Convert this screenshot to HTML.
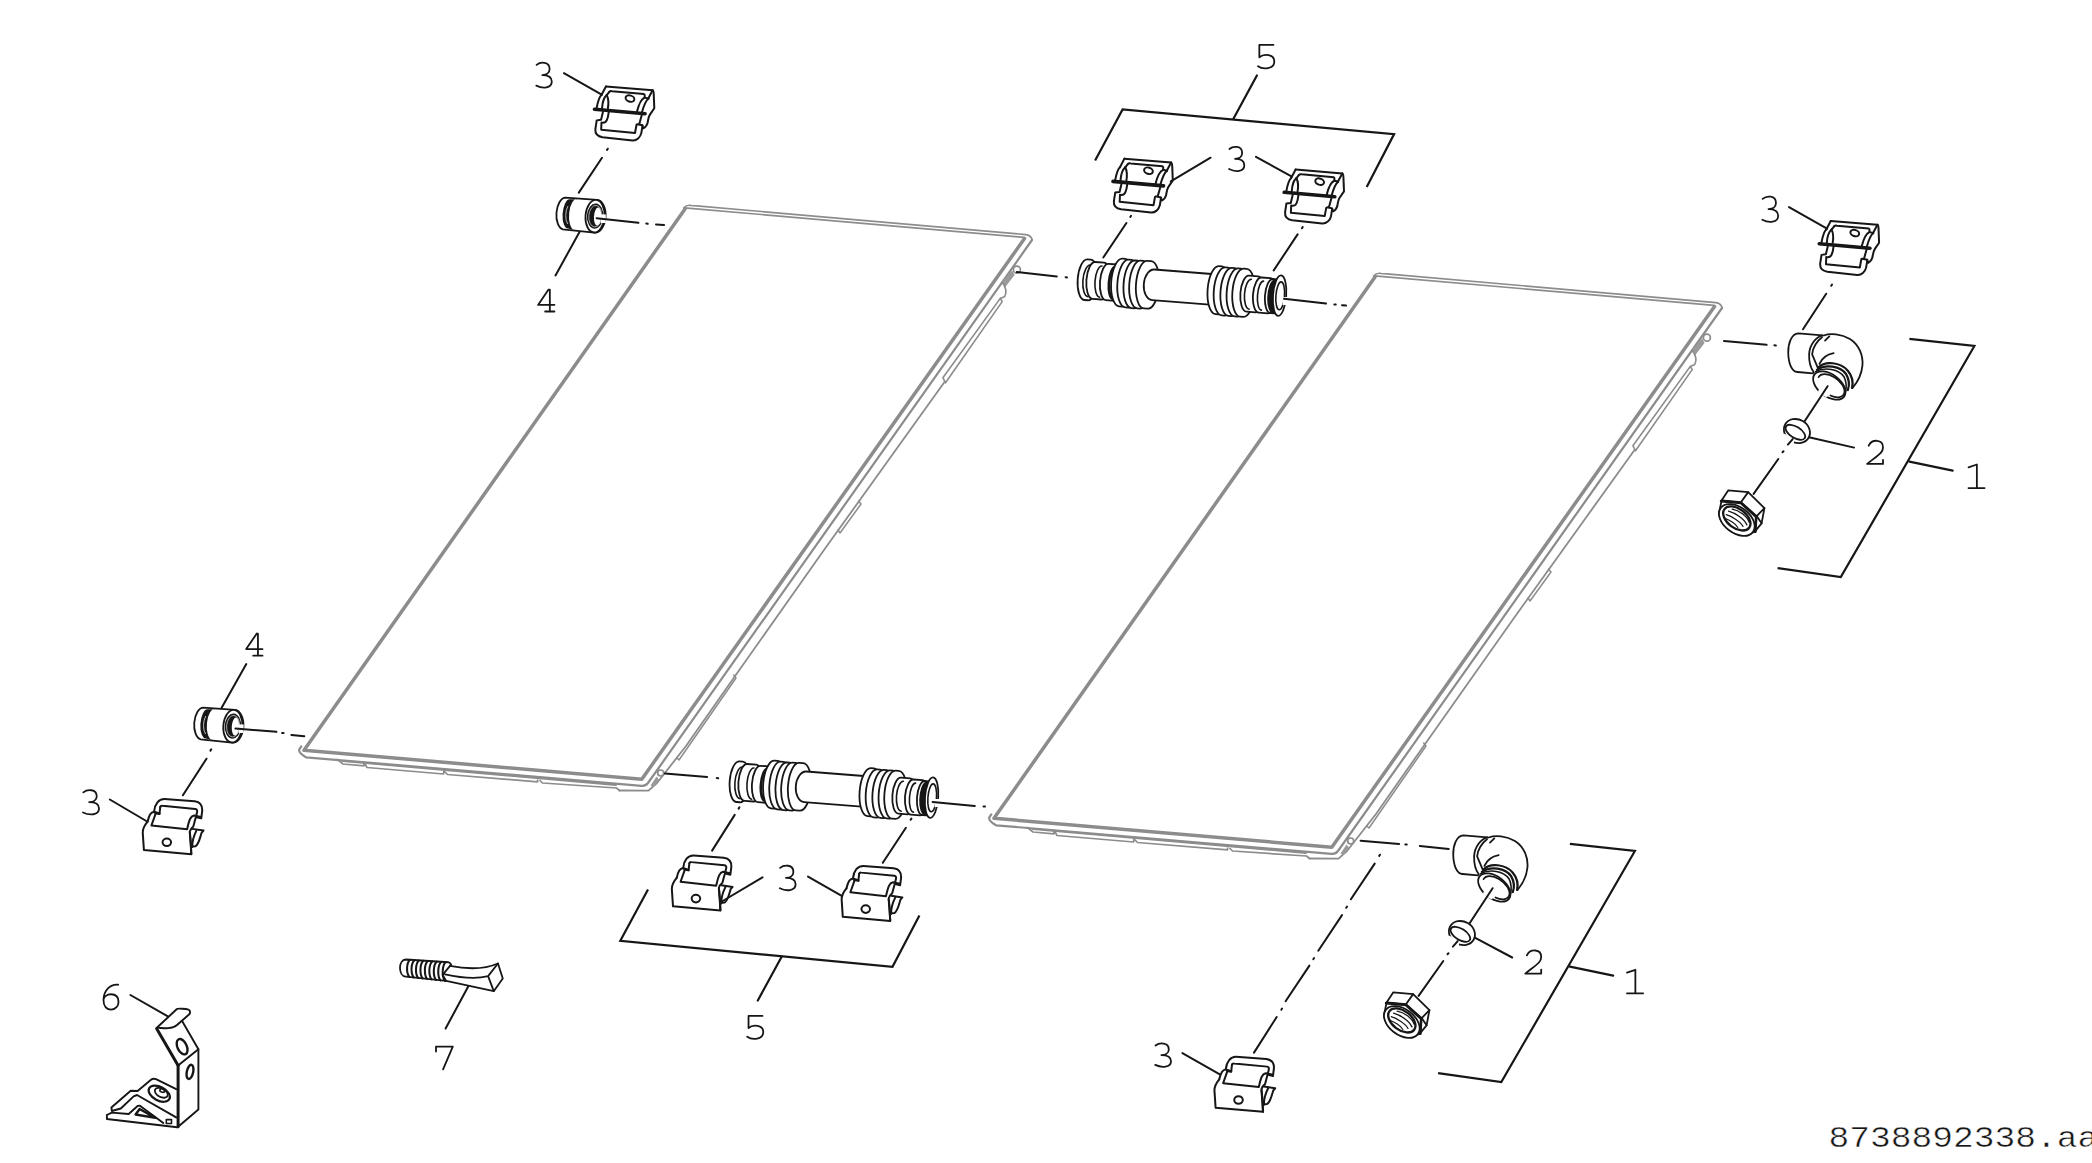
<!DOCTYPE html><html><head><meta charset="utf-8"><style>html,body{margin:0;padding:0;background:#fff;width:2092px;height:1163px;overflow:hidden}svg{display:block}</style></head><body><svg width="2092" height="1163" viewBox="0 0 2092 1163"><g transform="translate(0,0)"><path d="M684.5,207.8 L1024,237.4" fill="none" stroke="#8c8c8c" stroke-width="1.7" stroke-linejoin="round" stroke-linecap="round"/><path d="M683.6,208 Q686.5,204.6 691,205.4 L1026,234.6 Q1029,234.6 1031.5,237.9 L1032,239.5" fill="none" stroke="#8c8c8c" stroke-width="1.6" stroke-linejoin="round" stroke-linecap="round"/><path d="M685,209 L304,750.3 L641.8,779.2 L1024.5,238.5" fill="none" stroke="#8c8c8c" stroke-width="3.5" stroke-linejoin="round" stroke-linecap="round"/><path d="M1032,240 L648,783 Q645.5,786.2 641.5,785.8 L306,757.3 Q298,752.5 299.3,749.3 L301.3,746.3" fill="none" stroke="#8c8c8c" stroke-width="2.2" stroke-linejoin="round" stroke-linecap="round"/><path d="M944.5,382 L824,550 L733.7,678 L686,746 L657,783 L648.5,790.7 L619.5,790.5" fill="none" stroke="#8c8c8c" stroke-width="1.8" stroke-linejoin="round" stroke-linecap="round"/><path d="M1000.3,298.4 L942.9,377.7 L945.5,382.8 L1002.2,301.6 Z" fill="none" stroke="#8c8c8c" stroke-width="1.6" stroke-linejoin="round" stroke-linecap="round"/><path d="M858.5,501 L861,504 L840,533 L838,530" fill="none" stroke="#8c8c8c" stroke-width="1.5" stroke-linejoin="round" stroke-linecap="round"/><path d="M733.7,675 L736,678 L679,760 L676.8,758" fill="none" stroke="#8c8c8c" stroke-width="1.5" stroke-linejoin="round" stroke-linecap="round"/><path d="M337.5,759.5 L343,764 L364,765.8 L364,762.8 M364.5,763 L367,767.5 L443.5,774 L444,770.8 M444,771 L447.5,774.5 L537.6,781.8 L537.6,780 M540,780.5 L542.5,783 L616.5,788 L619.5,790.5" fill="none" stroke="#8c8c8c" stroke-width="1.7" stroke-linejoin="round" stroke-linecap="round"/><path d="M343,761 L616,785" fill="none" stroke="#8c8c8c" stroke-width="2.0" stroke-linejoin="round" stroke-linecap="round"/><path d="M1001.8,281.5 L1012.2,270.6 L1014.6,274.9 L1005.1,287.2 Z" fill="#9a9a9a"/><path d="M1002.2,282.2 Q1008,290 1004.8,296.4 L1000.3,298.4" fill="none" stroke="#8c8c8c" stroke-width="1.6" stroke-linejoin="round" stroke-linecap="round"/><path d="M650.5,785.5 L656.5,776.5 L659,779.5 L653.5,787 Z" fill="#9a9a9a"/><circle cx="660.7" cy="773" r="3.0" fill="#fff" stroke="#8c8c8c" stroke-width="1.7"/><circle cx="1016.9" cy="269.7" r="3.5" fill="#fff" stroke="#8c8c8c" stroke-width="1.7"/></g>
<g transform="translate(690,68)"><path d="M684.5,207.8 L1024,237.4" fill="none" stroke="#8c8c8c" stroke-width="1.7" stroke-linejoin="round" stroke-linecap="round"/><path d="M683.6,208 Q686.5,204.6 691,205.4 L1026,234.6 Q1029,234.6 1031.5,237.9 L1032,239.5" fill="none" stroke="#8c8c8c" stroke-width="1.6" stroke-linejoin="round" stroke-linecap="round"/><path d="M685,209 L304,750.3 L641.8,779.2 L1024.5,238.5" fill="none" stroke="#8c8c8c" stroke-width="3.5" stroke-linejoin="round" stroke-linecap="round"/><path d="M1032,240 L648,783 Q645.5,786.2 641.5,785.8 L306,757.3 Q298,752.5 299.3,749.3 L301.3,746.3" fill="none" stroke="#8c8c8c" stroke-width="2.2" stroke-linejoin="round" stroke-linecap="round"/><path d="M944.5,382 L824,550 L733.7,678 L686,746 L657,783 L648.5,790.7 L619.5,790.5" fill="none" stroke="#8c8c8c" stroke-width="1.8" stroke-linejoin="round" stroke-linecap="round"/><path d="M1000.3,298.4 L942.9,377.7 L945.5,382.8 L1002.2,301.6 Z" fill="none" stroke="#8c8c8c" stroke-width="1.6" stroke-linejoin="round" stroke-linecap="round"/><path d="M858.5,501 L861,504 L840,533 L838,530" fill="none" stroke="#8c8c8c" stroke-width="1.5" stroke-linejoin="round" stroke-linecap="round"/><path d="M733.7,675 L736,678 L679,760 L676.8,758" fill="none" stroke="#8c8c8c" stroke-width="1.5" stroke-linejoin="round" stroke-linecap="round"/><path d="M337.5,759.5 L343,764 L364,765.8 L364,762.8 M364.5,763 L367,767.5 L443.5,774 L444,770.8 M444,771 L447.5,774.5 L537.6,781.8 L537.6,780 M540,780.5 L542.5,783 L616.5,788 L619.5,790.5" fill="none" stroke="#8c8c8c" stroke-width="1.7" stroke-linejoin="round" stroke-linecap="round"/><path d="M343,761 L616,785" fill="none" stroke="#8c8c8c" stroke-width="2.0" stroke-linejoin="round" stroke-linecap="round"/><path d="M1001.8,281.5 L1012.2,270.6 L1014.6,274.9 L1005.1,287.2 Z" fill="#9a9a9a"/><path d="M1002.2,282.2 Q1008,290 1004.8,296.4 L1000.3,298.4" fill="none" stroke="#8c8c8c" stroke-width="1.6" stroke-linejoin="round" stroke-linecap="round"/><path d="M650.5,785.5 L656.5,776.5 L659,779.5 L653.5,787 Z" fill="#9a9a9a"/><circle cx="660.7" cy="773" r="3.0" fill="#fff" stroke="#8c8c8c" stroke-width="1.7"/><circle cx="1016.9" cy="269.7" r="3.5" fill="#fff" stroke="#8c8c8c" stroke-width="1.7"/></g>
<path d="M1095.1,160.6 L1122.6,109.5 L1394.1,134.1 L1366.7,187.0" fill="none" stroke="#161616" stroke-width="2.2" stroke-linejoin="miter" stroke-linecap="butt"/>
<line x1="1233.3" y1="118.9" x2="1256.9" y2="75.4" stroke="#161616" stroke-width="2.2" stroke-linecap="round"/>
<path d="M648.0,889.6 L620.3,940.8 L892.5,966.8 L919.4,915.6" fill="none" stroke="#161616" stroke-width="2.2" stroke-linejoin="miter" stroke-linecap="butt"/>
<line x1="781.5" y1="957.0" x2="757.8" y2="1000.5" stroke="#161616" stroke-width="2.2" stroke-linecap="round"/>
<path d="M1909.4,338.8 L1974.4,346.0 L1840.8,577.1 L1777.6,568.1" fill="none" stroke="#161616" stroke-width="2.2" stroke-linejoin="miter" stroke-linecap="butt"/>
<line x1="1909.4" y1="461.6" x2="1952.7" y2="470.6" stroke="#161616" stroke-width="2.2" stroke-linecap="round"/>
<path d="M1569.9,843.8 L1634.9,851.0 L1501.3,1082.1 L1438.1,1073.1" fill="none" stroke="#161616" stroke-width="2.2" stroke-linejoin="miter" stroke-linecap="butt"/>
<line x1="1569.9" y1="966.6" x2="1613.2" y2="975.6" stroke="#161616" stroke-width="2.2" stroke-linecap="round"/>
<path d="M536.61,64.88 C540.17,61.75 549.63,60.99 549.63,69.03 C549.63,73.29 545.91,75.05 542.34,75.05 C547.92,75.05 551.80,77.06 551.80,81.58 C551.80,88.60 542.50,88.85 536.30,85.59" fill="none" stroke="#161616" stroke-width="1.8" stroke-linecap="round" stroke-linejoin="round"/>
<path d="M1229.40,149.01 C1232.90,145.97 1242.17,145.24 1242.17,153.02 C1242.17,157.15 1238.52,158.85 1235.03,158.85 C1240.50,158.85 1244.30,160.79 1244.30,165.17 C1244.30,171.97 1235.18,172.22 1229.10,169.06" fill="none" stroke="#161616" stroke-width="1.8" stroke-linecap="round" stroke-linejoin="round"/>
<path d="M1762.62,198.81 C1766.28,195.64 1775.97,194.88 1775.97,203.00 C1775.97,207.32 1772.16,209.10 1768.50,209.10 C1774.22,209.10 1778.20,211.13 1778.20,215.70 C1778.20,222.82 1768.66,223.07 1762.30,219.77" fill="none" stroke="#161616" stroke-width="1.8" stroke-linecap="round" stroke-linejoin="round"/>
<path d="M83.32,792.32 C87.00,789.27 96.76,788.54 96.76,796.34 C96.76,800.49 92.92,802.20 89.24,802.20 C95.00,802.20 99.00,804.15 99.00,808.54 C99.00,815.38 89.40,815.62 83.00,812.45" fill="none" stroke="#161616" stroke-width="1.8" stroke-linecap="round" stroke-linejoin="round"/>
<path d="M780.12,867.85 C783.75,864.76 793.39,864.02 793.39,871.92 C793.39,876.12 789.60,877.85 785.96,877.85 C791.65,877.85 795.60,879.83 795.60,884.27 C795.60,891.19 786.12,891.44 779.80,888.22" fill="none" stroke="#161616" stroke-width="1.8" stroke-linecap="round" stroke-linejoin="round"/>
<path d="M1155.52,1045.53 C1159.15,1042.60 1168.79,1041.89 1168.79,1049.41 C1168.79,1053.40 1165.00,1055.05 1161.36,1055.05 C1167.05,1055.05 1171.00,1056.93 1171.00,1061.16 C1171.00,1067.74 1161.52,1067.97 1155.20,1064.92" fill="none" stroke="#161616" stroke-width="1.8" stroke-linecap="round" stroke-linejoin="round"/>
<path d="M548.53,289.60 L538.10,304.93 L554.40,304.93 M548.53,289.60 L549.84,289.60 L549.84,311.50 M545.11,311.50 L554.40,311.50" fill="none" stroke="#161616" stroke-width="1.8" stroke-linecap="round" stroke-linejoin="round"/>
<path d="M256.63,633.70 L246.20,649.10 L262.50,649.10 M256.63,633.70 L257.94,633.70 L257.94,655.70 M253.21,655.70 L262.50,655.70" fill="none" stroke="#161616" stroke-width="1.8" stroke-linecap="round" stroke-linejoin="round"/>
<path d="M1273.46,44.89 L1259.34,44.89 L1259.34,57.28 C1263.88,53.39 1274.30,54.12 1274.30,61.41 C1274.30,69.19 1263.04,69.92 1258.00,66.27" fill="none" stroke="#161616" stroke-width="1.8" stroke-linecap="round" stroke-linejoin="round"/>
<path d="M762.47,1015.88 L748.53,1015.88 L748.53,1028.01 C753.01,1024.21 763.30,1024.92 763.30,1032.06 C763.30,1039.68 752.18,1040.39 747.20,1036.82" fill="none" stroke="#161616" stroke-width="1.8" stroke-linecap="round" stroke-linejoin="round"/>
<path d="M1968.50,467.33 L1976.87,464.50 L1976.87,488.10 M1968.50,488.10 L1984.60,488.10" fill="none" stroke="#161616" stroke-width="1.8" stroke-linecap="round" stroke-linejoin="round"/>
<path d="M1627.00,972.63 L1635.37,969.80 L1635.37,993.40 M1627.00,993.40 L1643.10,993.40" fill="none" stroke="#161616" stroke-width="1.8" stroke-linecap="round" stroke-linejoin="round"/>
<path d="M1868.69,445.73 C1871.87,438.88 1883.00,438.88 1883.00,447.38 C1883.00,452.57 1879.03,454.46 1867.10,463.90 L1883.00,463.90 L1883.00,459.89" fill="none" stroke="#161616" stroke-width="1.8" stroke-linecap="round" stroke-linejoin="round"/>
<path d="M1526.89,955.43 C1530.07,948.58 1541.20,948.58 1541.20,957.08 C1541.20,962.27 1537.22,964.16 1525.30,973.60 L1541.20,973.60 L1541.20,969.59" fill="none" stroke="#161616" stroke-width="1.8" stroke-linecap="round" stroke-linejoin="round"/>
<path d="M118.20,984.77 C110.20,984.00 103.80,990.40 103.48,999.87 C103.48,1005.76 106.20,1009.60 111.00,1009.60 C115.80,1009.60 118.52,1005.76 118.52,1001.92 C118.52,996.80 115.80,994.24 111.00,994.24 C107.00,994.24 103.80,996.80 103.48,999.87" fill="none" stroke="#161616" stroke-width="1.8" stroke-linecap="round" stroke-linejoin="round"/>
<path d="M436.00,1051.62 L436.00,1046.60 L452.80,1046.60 L443.06,1069.40" fill="none" stroke="#161616" stroke-width="1.8" stroke-linecap="round" stroke-linejoin="round"/>
<text transform="translate(1828.5,1147) scale(1,0.86)" font-family="Liberation Mono" font-size="34.6" fill="#161616" stroke="#fff" stroke-width="0.5">8738892338.aa</text>
<line x1="563.9" y1="73.2" x2="601.7" y2="94.7" stroke="#161616" stroke-width="2.0" stroke-linecap="round"/>
<line x1="579.5" y1="232.1" x2="555.5" y2="275.4" stroke="#161616" stroke-width="2.0" stroke-linecap="round"/>
<line x1="246.3" y1="664.1" x2="221.5" y2="708.1" stroke="#161616" stroke-width="2.0" stroke-linecap="round"/>
<line x1="109.8" y1="799.5" x2="146.3" y2="821.0" stroke="#161616" stroke-width="2.0" stroke-linecap="round"/>
<line x1="1210.6" y1="157.7" x2="1170.8" y2="181.4" stroke="#161616" stroke-width="2.0" stroke-linecap="round"/>
<line x1="1256.0" y1="156.8" x2="1291.9" y2="176.6" stroke="#161616" stroke-width="2.0" stroke-linecap="round"/>
<line x1="1789.0" y1="207.1" x2="1827.0" y2="228.7" stroke="#161616" stroke-width="2.0" stroke-linecap="round"/>
<line x1="762.5" y1="877.4" x2="722.7" y2="901.0" stroke="#161616" stroke-width="2.0" stroke-linecap="round"/>
<line x1="808.0" y1="876.6" x2="842.2" y2="896.1" stroke="#161616" stroke-width="2.0" stroke-linecap="round"/>
<line x1="1182.4" y1="1053.1" x2="1219.8" y2="1074.3" stroke="#161616" stroke-width="2.0" stroke-linecap="round"/>
<line x1="1809.0" y1="437.3" x2="1854.1" y2="447.6" stroke="#161616" stroke-width="2.0" stroke-linecap="round"/>
<line x1="1474.8" y1="937.6" x2="1512.2" y2="957.5" stroke="#161616" stroke-width="2.0" stroke-linecap="round"/>
<line x1="130.4" y1="995.0" x2="168.3" y2="1016.6" stroke="#161616" stroke-width="2.0" stroke-linecap="round"/>
<line x1="469.0" y1="985.0" x2="445.6" y2="1028.5" stroke="#161616" stroke-width="2.0" stroke-linecap="round"/>
<g transform="translate(590.00,80.00) scale(0.05591)" fill="none" stroke="#161616" stroke-width="35.77" stroke-linecap="round" stroke-linejoin="round">
<path d="M285,115 L1120,185"/>
<path d="M285,115 L205,268"/>
<path d="M205,268 C165,300 140,390 118,505"/>
<path d="M300,268 C250,310 222,400 215,505"/>
<path d="M300,270 C325,320 335,420 320,505"/>
<path d="M345,212 C360,195 375,195 395,200 L965,252 L978,268 L978,315 L1045,330"/>
<path d="M1120,185 L1040,335"/>
<path d="M978,315 C925,335 880,410 842,560"/>
<path d="M1045,335 C995,370 965,450 930,575"/>
<path d="M345,212 L300,270"/>
<ellipse cx="715" cy="332" rx="80" ry="56" transform="rotate(18 715 332)"/>
<path d="M1120,185 C1138,200 1142,225 1140,255 L1150,505 L1075,615 C1050,650 1040,700 1030,770 C1010,830 995,850 955,862"/>
<path d="M232,570 L198,712 L120,722 L96,880 C90,960 140,1010 225,1022 L760,1080 C835,1085 900,1025 918,950 L940,810 L850,790 L832,800 L805,948 L200,888 L205,760 C245,770 280,760 300,720 C320,680 330,620 336,570"/>
<path d="M925,630 L880,790"/>
<path d="M935,815 L955,860"/>
<path d="M80,522 L985,602" stroke-width="64"/>
</g>
<g transform="translate(1108.50,152.20) scale(0.05591)" fill="none" stroke="#161616" stroke-width="35.77" stroke-linecap="round" stroke-linejoin="round">
<path d="M285,115 L1120,185"/>
<path d="M285,115 L205,268"/>
<path d="M205,268 C165,300 140,390 118,505"/>
<path d="M300,268 C250,310 222,400 215,505"/>
<path d="M300,270 C325,320 335,420 320,505"/>
<path d="M345,212 C360,195 375,195 395,200 L965,252 L978,268 L978,315 L1045,330"/>
<path d="M1120,185 L1040,335"/>
<path d="M978,315 C925,335 880,410 842,560"/>
<path d="M1045,335 C995,370 965,450 930,575"/>
<path d="M345,212 L300,270"/>
<ellipse cx="715" cy="332" rx="80" ry="56" transform="rotate(18 715 332)"/>
<path d="M1120,185 C1138,200 1142,225 1140,255 L1150,505 L1075,615 C1050,650 1040,700 1030,770 C1010,830 995,850 955,862"/>
<path d="M232,570 L198,712 L120,722 L96,880 C90,960 140,1010 225,1022 L760,1080 C835,1085 900,1025 918,950 L940,810 L850,790 L832,800 L805,948 L200,888 L205,760 C245,770 280,760 300,720 C320,680 330,620 336,570"/>
<path d="M925,630 L880,790"/>
<path d="M935,815 L955,860"/>
<path d="M80,522 L985,602" stroke-width="64"/>
</g>
<g transform="translate(1279.70,163.10) scale(0.05591)" fill="none" stroke="#161616" stroke-width="35.77" stroke-linecap="round" stroke-linejoin="round">
<path d="M285,115 L1120,185"/>
<path d="M285,115 L205,268"/>
<path d="M205,268 C165,300 140,390 118,505"/>
<path d="M300,268 C250,310 222,400 215,505"/>
<path d="M300,270 C325,320 335,420 320,505"/>
<path d="M345,212 C360,195 375,195 395,200 L965,252 L978,268 L978,315 L1045,330"/>
<path d="M1120,185 L1040,335"/>
<path d="M978,315 C925,335 880,410 842,560"/>
<path d="M1045,335 C995,370 965,450 930,575"/>
<path d="M345,212 L300,270"/>
<ellipse cx="715" cy="332" rx="80" ry="56" transform="rotate(18 715 332)"/>
<path d="M1120,185 C1138,200 1142,225 1140,255 L1150,505 L1075,615 C1050,650 1040,700 1030,770 C1010,830 995,850 955,862"/>
<path d="M232,570 L198,712 L120,722 L96,880 C90,960 140,1010 225,1022 L760,1080 C835,1085 900,1025 918,950 L940,810 L850,790 L832,800 L805,948 L200,888 L205,760 C245,770 280,760 300,720 C320,680 330,620 336,570"/>
<path d="M925,630 L880,790"/>
<path d="M935,815 L955,860"/>
<path d="M80,522 L985,602" stroke-width="64"/>
</g>
<g transform="translate(1814.80,214.50) scale(0.05591)" fill="none" stroke="#161616" stroke-width="35.77" stroke-linecap="round" stroke-linejoin="round">
<path d="M285,115 L1120,185"/>
<path d="M285,115 L205,268"/>
<path d="M205,268 C165,300 140,390 118,505"/>
<path d="M300,268 C250,310 222,400 215,505"/>
<path d="M300,270 C325,320 335,420 320,505"/>
<path d="M345,212 C360,195 375,195 395,200 L965,252 L978,268 L978,315 L1045,330"/>
<path d="M1120,185 L1040,335"/>
<path d="M978,315 C925,335 880,410 842,560"/>
<path d="M1045,335 C995,370 965,450 930,575"/>
<path d="M345,212 L300,270"/>
<ellipse cx="715" cy="332" rx="80" ry="56" transform="rotate(18 715 332)"/>
<path d="M1120,185 C1138,200 1142,225 1140,255 L1150,505 L1075,615 C1050,650 1040,700 1030,770 C1010,830 995,850 955,862"/>
<path d="M232,570 L198,712 L120,722 L96,880 C90,960 140,1010 225,1022 L760,1080 C835,1085 900,1025 918,950 L940,810 L850,790 L832,800 L805,948 L200,888 L205,760 C245,770 280,760 300,720 C320,680 330,620 336,570"/>
<path d="M925,630 L880,790"/>
<path d="M935,815 L955,860"/>
<path d="M80,522 L985,602" stroke-width="64"/>
</g>
<g transform="translate(130.00,790.00) scale(0.06882)" fill="none" stroke="#161616" stroke-width="29.06" stroke-linecap="round" stroke-linejoin="round">
<path d="M350,312 C360,200 420,130 500,132 L940,165 C1010,175 1052,225 1050,295 L1035,412 L965,395"/>
<path d="M440,245 C445,232 455,228 470,230 L950,275 C975,280 980,300 975,320 L960,380"/>
<path d="M440,245 L428,350 L365,338"/>
<path d="M255,460 C280,360 300,322 350,315 L430,342"/>
<path d="M372,345 L312,515 L830,572 C860,430 880,380 930,370 L1032,392"/>
<path d="M255,460 C205,520 185,570 185,620 L202,872 L892,932 L868,605 C880,565 900,545 920,530 L960,380"/>
<ellipse cx="535" cy="760" rx="62" ry="55"/>
<path d="M905,565 L1068,590 L1040,622 C1015,700 1000,790 950,818 L915,820"/>
<path d="M965,590 C930,660 900,740 905,830"/>
<path d="M870,620 C880,700 890,800 890,930"/>
</g>
<g transform="translate(659.10,846.30) scale(0.06882)" fill="none" stroke="#161616" stroke-width="29.06" stroke-linecap="round" stroke-linejoin="round">
<path d="M350,312 C360,200 420,130 500,132 L940,165 C1010,175 1052,225 1050,295 L1035,412 L965,395"/>
<path d="M440,245 C445,232 455,228 470,230 L950,275 C975,280 980,300 975,320 L960,380"/>
<path d="M440,245 L428,350 L365,338"/>
<path d="M255,460 C280,360 300,322 350,315 L430,342"/>
<path d="M372,345 L312,515 L830,572 C860,430 880,380 930,370 L1032,392"/>
<path d="M255,460 C205,520 185,570 185,620 L202,872 L892,932 L868,605 C880,565 900,545 920,530 L960,380"/>
<ellipse cx="535" cy="760" rx="62" ry="55"/>
<path d="M905,565 L1068,590 L1040,622 C1015,700 1000,790 950,818 L915,820"/>
<path d="M965,590 C930,660 900,740 905,830"/>
<path d="M870,620 C880,700 890,800 890,930"/>
</g>
<g transform="translate(828.90,856.80) scale(0.06882)" fill="none" stroke="#161616" stroke-width="29.06" stroke-linecap="round" stroke-linejoin="round">
<path d="M350,312 C360,200 420,130 500,132 L940,165 C1010,175 1052,225 1050,295 L1035,412 L965,395"/>
<path d="M440,245 C445,232 455,228 470,230 L950,275 C975,280 980,300 975,320 L960,380"/>
<path d="M440,245 L428,350 L365,338"/>
<path d="M255,460 C280,360 300,322 350,315 L430,342"/>
<path d="M372,345 L312,515 L830,572 C860,430 880,380 930,370 L1032,392"/>
<path d="M255,460 C205,520 185,570 185,620 L202,872 L892,932 L868,605 C880,565 900,545 920,530 L960,380"/>
<ellipse cx="535" cy="760" rx="62" ry="55"/>
<path d="M905,565 L1068,590 L1040,622 C1015,700 1000,790 950,818 L915,820"/>
<path d="M965,590 C930,660 900,740 905,830"/>
<path d="M870,620 C880,700 890,800 890,930"/>
</g>
<g transform="translate(1201.70,1047.70) scale(0.06882)" fill="none" stroke="#161616" stroke-width="29.06" stroke-linecap="round" stroke-linejoin="round">
<path d="M350,312 C360,200 420,130 500,132 L940,165 C1010,175 1052,225 1050,295 L1035,412 L965,395"/>
<path d="M440,245 C445,232 455,228 470,230 L950,275 C975,280 980,300 975,320 L960,380"/>
<path d="M440,245 L428,350 L365,338"/>
<path d="M255,460 C280,360 300,322 350,315 L430,342"/>
<path d="M372,345 L312,515 L830,572 C860,430 880,380 930,370 L1032,392"/>
<path d="M255,460 C205,520 185,570 185,620 L202,872 L892,932 L868,605 C880,565 900,545 920,530 L960,380"/>
<ellipse cx="535" cy="760" rx="62" ry="55"/>
<path d="M905,565 L1068,590 L1040,622 C1015,700 1000,790 950,818 L915,820"/>
<path d="M965,590 C930,660 900,740 905,830"/>
<path d="M870,620 C880,700 890,800 890,930"/>
</g>
<g transform="translate(0,0)"><path d="M742.90,761.67 L739.40,761.40 A8.2,20.3 4.23 0 0 736.40,802.00 L739.90,802.27 A8.2,20.3 4.23 0 0 742.90,761.67 Z" fill="#fff" stroke="#161616" stroke-width="1.8" stroke-linejoin="round"/><path d="M742.37,767.00 A6.3,15.8 4.23 0 0 740.03,798.60" fill="none" stroke="#161616" stroke-width="1.6" stroke-linecap="round"/><path d="M756.16,764.70 L747.16,764.00 A7.4,18.4 4.23 0 0 744.44,800.80 L753.44,801.50 A7.4,18.4 4.23 0 0 756.16,764.70 Z" fill="#fff" stroke="#161616" stroke-width="1.8" stroke-linejoin="round"/><path d="M753.95,768.00 A5.8,15.6 4.23 0 0 751.65,799.20" fill="none" stroke="#161616" stroke-width="1.6" stroke-linecap="round"/><path d="M769.55,766.50 L760.55,765.80 A7.2,18.2 4.23 0 0 757.85,802.20 L766.85,802.90 A7.2,18.2 4.23 0 0 769.55,766.50 Z" fill="#fff" stroke="#161616" stroke-width="1.8" stroke-linejoin="round"/><path d="M767.37,769.20 A5.2,15.8 4.23 0 0 765.03,800.80" fill="none" stroke="#161616" stroke-width="2.8" stroke-linecap="round"/><path d="M777.46,760.93 L774.46,760.70 A9.5,23.8 4.23 0 0 770.94,808.30 L773.94,808.53 A9.5,23.8 4.23 0 0 777.46,760.93 Z" fill="#fff" stroke="#161616" stroke-width="1.8" stroke-linejoin="round"/><path d="M783.66,761.93 L780.66,761.70 A9.5,23.8 4.23 0 0 777.14,809.30 L780.14,809.53 A9.5,23.8 4.23 0 0 783.66,761.93 Z" fill="#fff" stroke="#161616" stroke-width="1.8" stroke-linejoin="round"/><path d="M789.86,762.73 L786.86,762.50 A9.5,23.8 4.23 0 0 783.34,810.10 L786.34,810.33 A9.5,23.8 4.23 0 0 789.86,762.73 Z" fill="#fff" stroke="#161616" stroke-width="1.8" stroke-linejoin="round"/><path d="M795.56,762.93 L792.56,762.70 A9.5,23.8 4.23 0 0 789.04,810.30 L792.04,810.53 A9.5,23.8 4.23 0 0 795.56,762.93 Z" fill="#fff" stroke="#161616" stroke-width="1.8" stroke-linejoin="round"/><path d="M803.26,763.11 L799.26,762.80 A9.5,23.8 4.23 0 0 795.74,810.40 L799.74,810.71 A9.5,23.8 4.23 0 0 803.26,763.11 Z" fill="#fff" stroke="#161616" stroke-width="1.8" stroke-linejoin="round"/><path d="M863.83,775.98 L806.43,771.50 A9.5,15.3 4.23 0 0 804.17,802.10 L861.57,806.58 A9.5,15.3 4.23 0 0 863.83,775.98 Z" fill="#fff" stroke="#161616" stroke-width="1.8" stroke-linejoin="round"/><path d="M873.98,768.33 L870.98,768.10 A9.6,24 4.23 0 0 867.42,816.10 L870.42,816.33 A9.6,24 4.23 0 0 873.98,768.33 Z" fill="#fff" stroke="#161616" stroke-width="1.8" stroke-linejoin="round"/><path d="M880.18,769.63 L877.18,769.40 A9.6,24 4.23 0 0 873.62,817.40 L876.62,817.63 A9.6,24 4.23 0 0 880.18,769.63 Z" fill="#fff" stroke="#161616" stroke-width="1.8" stroke-linejoin="round"/><path d="M886.88,770.13 L883.88,769.90 A9.6,24 4.23 0 0 880.32,817.90 L883.32,818.13 A9.6,24 4.23 0 0 886.88,770.13 Z" fill="#fff" stroke="#161616" stroke-width="1.8" stroke-linejoin="round"/><path d="M893.08,770.63 L890.08,770.40 A9.6,24 4.23 0 0 886.52,818.40 L889.52,818.63 A9.6,24 4.23 0 0 893.08,770.63 Z" fill="#fff" stroke="#161616" stroke-width="1.8" stroke-linejoin="round"/><path d="M898.78,770.93 L895.78,770.70 A9.6,24 4.23 0 0 892.22,818.70 L895.22,818.93 A9.6,24 4.23 0 0 898.78,770.93 Z" fill="#fff" stroke="#161616" stroke-width="1.8" stroke-linejoin="round"/><path d="M910.13,778.30 L901.13,777.60 A7.4,18 4.23 0 0 898.47,813.60 L907.47,814.30 A7.4,18 4.23 0 0 910.13,778.30 Z" fill="#fff" stroke="#161616" stroke-width="1.8" stroke-linejoin="round"/><path d="M903.41,781.20 A5.8,15 4.23 0 0 901.19,811.20" fill="none" stroke="#161616" stroke-width="1.6" stroke-linecap="round"/><path d="M922.50,780.20 L913.50,779.50 A7.2,17.6 4.23 0 0 910.90,814.70 L919.90,815.40 A7.2,17.6 4.23 0 0 922.50,780.20 Z" fill="#fff" stroke="#161616" stroke-width="1.8" stroke-linejoin="round"/><path d="M915.57,783.10 A5.0,14.5 4.23 0 0 913.43,812.10" fill="none" stroke="#161616" stroke-width="1.6" stroke-linecap="round"/><path d="M928.76,781.31 L924.76,781.00 A6.5,17 4.23 0 0 922.24,815.00 L926.24,815.31 A6.5,17 4.23 0 0 928.76,781.31 Z" fill="#fff" stroke="#161616" stroke-width="1.8" stroke-linejoin="round"/><path d="M925.5,781.5 A6.5,17 4.23 0 0 924.2,815 L928,815.3 A6.5,17 4.23 0 0 929.3,781.8 Z" fill="#161616"/><ellipse cx="931.6" cy="797.6" rx="6.6" ry="20.3" transform="rotate(4.23 931.6 797.6)" fill="#fff" stroke="#161616" stroke-width="1.8"/><ellipse cx="932.2" cy="797.8000000000001" rx="4.3" ry="14" transform="rotate(4.23 931.6 797.6)" fill="none" stroke="#161616" stroke-width="1.6"/><path d="M924.5,786 Q922,798 925,810" fill="none" stroke="#161616" stroke-width="2.6"/><rect x="934.5" y="799" width="6" height="8" fill="#fff"/></g>
<g transform="translate(348,-502)"><path d="M742.90,761.67 L739.40,761.40 A8.2,20.3 4.23 0 0 736.40,802.00 L739.90,802.27 A8.2,20.3 4.23 0 0 742.90,761.67 Z" fill="#fff" stroke="#161616" stroke-width="1.8" stroke-linejoin="round"/><path d="M742.37,767.00 A6.3,15.8 4.23 0 0 740.03,798.60" fill="none" stroke="#161616" stroke-width="1.6" stroke-linecap="round"/><path d="M756.16,764.70 L747.16,764.00 A7.4,18.4 4.23 0 0 744.44,800.80 L753.44,801.50 A7.4,18.4 4.23 0 0 756.16,764.70 Z" fill="#fff" stroke="#161616" stroke-width="1.8" stroke-linejoin="round"/><path d="M753.95,768.00 A5.8,15.6 4.23 0 0 751.65,799.20" fill="none" stroke="#161616" stroke-width="1.6" stroke-linecap="round"/><path d="M769.55,766.50 L760.55,765.80 A7.2,18.2 4.23 0 0 757.85,802.20 L766.85,802.90 A7.2,18.2 4.23 0 0 769.55,766.50 Z" fill="#fff" stroke="#161616" stroke-width="1.8" stroke-linejoin="round"/><path d="M767.37,769.20 A5.2,15.8 4.23 0 0 765.03,800.80" fill="none" stroke="#161616" stroke-width="2.8" stroke-linecap="round"/><path d="M777.46,760.93 L774.46,760.70 A9.5,23.8 4.23 0 0 770.94,808.30 L773.94,808.53 A9.5,23.8 4.23 0 0 777.46,760.93 Z" fill="#fff" stroke="#161616" stroke-width="1.8" stroke-linejoin="round"/><path d="M783.66,761.93 L780.66,761.70 A9.5,23.8 4.23 0 0 777.14,809.30 L780.14,809.53 A9.5,23.8 4.23 0 0 783.66,761.93 Z" fill="#fff" stroke="#161616" stroke-width="1.8" stroke-linejoin="round"/><path d="M789.86,762.73 L786.86,762.50 A9.5,23.8 4.23 0 0 783.34,810.10 L786.34,810.33 A9.5,23.8 4.23 0 0 789.86,762.73 Z" fill="#fff" stroke="#161616" stroke-width="1.8" stroke-linejoin="round"/><path d="M795.56,762.93 L792.56,762.70 A9.5,23.8 4.23 0 0 789.04,810.30 L792.04,810.53 A9.5,23.8 4.23 0 0 795.56,762.93 Z" fill="#fff" stroke="#161616" stroke-width="1.8" stroke-linejoin="round"/><path d="M803.26,763.11 L799.26,762.80 A9.5,23.8 4.23 0 0 795.74,810.40 L799.74,810.71 A9.5,23.8 4.23 0 0 803.26,763.11 Z" fill="#fff" stroke="#161616" stroke-width="1.8" stroke-linejoin="round"/><path d="M863.83,775.98 L806.43,771.50 A9.5,15.3 4.23 0 0 804.17,802.10 L861.57,806.58 A9.5,15.3 4.23 0 0 863.83,775.98 Z" fill="#fff" stroke="#161616" stroke-width="1.8" stroke-linejoin="round"/><path d="M873.98,768.33 L870.98,768.10 A9.6,24 4.23 0 0 867.42,816.10 L870.42,816.33 A9.6,24 4.23 0 0 873.98,768.33 Z" fill="#fff" stroke="#161616" stroke-width="1.8" stroke-linejoin="round"/><path d="M880.18,769.63 L877.18,769.40 A9.6,24 4.23 0 0 873.62,817.40 L876.62,817.63 A9.6,24 4.23 0 0 880.18,769.63 Z" fill="#fff" stroke="#161616" stroke-width="1.8" stroke-linejoin="round"/><path d="M886.88,770.13 L883.88,769.90 A9.6,24 4.23 0 0 880.32,817.90 L883.32,818.13 A9.6,24 4.23 0 0 886.88,770.13 Z" fill="#fff" stroke="#161616" stroke-width="1.8" stroke-linejoin="round"/><path d="M893.08,770.63 L890.08,770.40 A9.6,24 4.23 0 0 886.52,818.40 L889.52,818.63 A9.6,24 4.23 0 0 893.08,770.63 Z" fill="#fff" stroke="#161616" stroke-width="1.8" stroke-linejoin="round"/><path d="M898.78,770.93 L895.78,770.70 A9.6,24 4.23 0 0 892.22,818.70 L895.22,818.93 A9.6,24 4.23 0 0 898.78,770.93 Z" fill="#fff" stroke="#161616" stroke-width="1.8" stroke-linejoin="round"/><path d="M910.13,778.30 L901.13,777.60 A7.4,18 4.23 0 0 898.47,813.60 L907.47,814.30 A7.4,18 4.23 0 0 910.13,778.30 Z" fill="#fff" stroke="#161616" stroke-width="1.8" stroke-linejoin="round"/><path d="M903.41,781.20 A5.8,15 4.23 0 0 901.19,811.20" fill="none" stroke="#161616" stroke-width="1.6" stroke-linecap="round"/><path d="M922.50,780.20 L913.50,779.50 A7.2,17.6 4.23 0 0 910.90,814.70 L919.90,815.40 A7.2,17.6 4.23 0 0 922.50,780.20 Z" fill="#fff" stroke="#161616" stroke-width="1.8" stroke-linejoin="round"/><path d="M915.57,783.10 A5.0,14.5 4.23 0 0 913.43,812.10" fill="none" stroke="#161616" stroke-width="1.6" stroke-linecap="round"/><path d="M928.76,781.31 L924.76,781.00 A6.5,17 4.23 0 0 922.24,815.00 L926.24,815.31 A6.5,17 4.23 0 0 928.76,781.31 Z" fill="#fff" stroke="#161616" stroke-width="1.8" stroke-linejoin="round"/><path d="M925.5,781.5 A6.5,17 4.23 0 0 924.2,815 L928,815.3 A6.5,17 4.23 0 0 929.3,781.8 Z" fill="#161616"/><ellipse cx="931.6" cy="797.6" rx="6.6" ry="20.3" transform="rotate(4.23 931.6 797.6)" fill="#fff" stroke="#161616" stroke-width="1.8"/><ellipse cx="932.2" cy="797.8000000000001" rx="4.3" ry="14" transform="rotate(4.23 931.6 797.6)" fill="none" stroke="#161616" stroke-width="1.6"/><path d="M924.5,786 Q922,798 925,810" fill="none" stroke="#161616" stroke-width="2.6"/><rect x="934.5" y="799" width="6" height="8" fill="#fff"/></g>
<g transform="translate(0,0)"><path d="M565.5,197.7 L597.3,199.9 A9.8,16.4 4 0 1 594.3,232.6 L562.9,229.3 A8.4,15.9 4 0 1 565.5,197.7 Z" fill="#fff" stroke="#161616" stroke-width="1.8"/><path d="M569.6,199.3 A6.2,14.6 4 0 0 568,228.5 L574,229.9 A6.6,15.4 4 0 1 577.4,199.2 Z" fill="#161616"/><path d="M568,206 A5,11 4 0 0 567.8,224" fill="none" stroke="#fff" stroke-width="0.7"/><ellipse cx="595" cy="216.2" rx="9.5" ry="16.3" transform="rotate(4 595 216.2)" fill="#fff" stroke="#161616" stroke-width="1.8"/><ellipse cx="595.1" cy="216.1" rx="8.2" ry="12.6" transform="rotate(4 595.1 216.1)" fill="#161616" stroke="none"/><ellipse cx="595.3" cy="216.2" rx="6.5" ry="10.8" transform="rotate(4 595.3 216.2)" fill="none" stroke="#fff" stroke-width="0.6"/><ellipse cx="597.6" cy="216.6" rx="3.6" ry="9.0" transform="rotate(4 597.6 216.6)" fill="#fff"/><rect x="600.8" y="214.4" width="5" height="8.6" fill="#fff"/></g>
<g transform="translate(-362.2,510)"><path d="M565.5,197.7 L597.3,199.9 A9.8,16.4 4 0 1 594.3,232.6 L562.9,229.3 A8.4,15.9 4 0 1 565.5,197.7 Z" fill="#fff" stroke="#161616" stroke-width="1.8"/><path d="M569.6,199.3 A6.2,14.6 4 0 0 568,228.5 L574,229.9 A6.6,15.4 4 0 1 577.4,199.2 Z" fill="#161616"/><path d="M568,206 A5,11 4 0 0 567.8,224" fill="none" stroke="#fff" stroke-width="0.7"/><ellipse cx="595" cy="216.2" rx="9.5" ry="16.3" transform="rotate(4 595 216.2)" fill="#fff" stroke="#161616" stroke-width="1.8"/><ellipse cx="595.1" cy="216.1" rx="8.2" ry="12.6" transform="rotate(4 595.1 216.1)" fill="#161616" stroke="none"/><ellipse cx="595.3" cy="216.2" rx="6.5" ry="10.8" transform="rotate(4 595.3 216.2)" fill="none" stroke="#fff" stroke-width="0.6"/><ellipse cx="597.6" cy="216.6" rx="3.6" ry="9.0" transform="rotate(4 597.6 216.6)" fill="#fff"/><rect x="600.8" y="214.4" width="5" height="8.6" fill="#fff"/></g>
<g transform="translate(1770.00,320.00) scale(0.08598)" fill="none" stroke="#161616" stroke-width="20.93" stroke-linecap="round" stroke-linejoin="round">
<path d="M610,180 L330,155 C250,160 210,270 212,380 C215,500 250,600 320,605 L500,620 L560,830 L880,900 L1000,760 C1060,680 1085,600 1078,500 C1070,360 1000,250 900,200 C820,160 700,150 625,180 Z" fill="#fff" stroke="none"/>
<path d="M610,180 L330,155 C250,160 210,270 212,380 C215,500 250,600 320,605 L500,620"/>
<path d="M610,180 C530,200 460,290 455,400 C452,500 480,570 510,610"/>
<path d="M605,200 C550,240 495,320 490,400 L555,555"/>
<path d="M640,240 L690,190"/>
<path d="M625,180 C700,150 830,160 930,220 C1040,290 1085,420 1075,530 C1065,630 1020,720 960,790"/>
<path d="M740,385 C660,400 610,430 575,510"/>
<path d="M560,555 C640,470 820,490 905,590 C955,650 970,720 955,790" stroke-width="26"/>
<path d="M545,580 C640,510 820,530 885,630 C920,690 925,760 905,815" stroke-width="26"/>
<path d="M530,600 C640,545 800,570 860,660 C890,710 890,790 880,830" stroke-width="18"/>
<ellipse cx="690" cy="762" rx="215" ry="128" transform="rotate(37 690 762)" fill="#fff"/>
<path d="M565,664.4 A178,102 37 1 1 702.9,877.2" stroke-width="20"/>
<path d="M585,830 L655,872" stroke="#fff" stroke-width="50"/>
</g>
<g transform="translate(1435.00,822.00) scale(0.08598)" fill="none" stroke="#161616" stroke-width="20.93" stroke-linecap="round" stroke-linejoin="round">
<path d="M610,180 L330,155 C250,160 210,270 212,380 C215,500 250,600 320,605 L500,620 L560,830 L880,900 L1000,760 C1060,680 1085,600 1078,500 C1070,360 1000,250 900,200 C820,160 700,150 625,180 Z" fill="#fff" stroke="none"/>
<path d="M610,180 L330,155 C250,160 210,270 212,380 C215,500 250,600 320,605 L500,620"/>
<path d="M610,180 C530,200 460,290 455,400 C452,500 480,570 510,610"/>
<path d="M605,200 C550,240 495,320 490,400 L555,555"/>
<path d="M640,240 L690,190"/>
<path d="M625,180 C700,150 830,160 930,220 C1040,290 1085,420 1075,530 C1065,630 1020,720 960,790"/>
<path d="M740,385 C660,400 610,430 575,510"/>
<path d="M560,555 C640,470 820,490 905,590 C955,650 970,720 955,790" stroke-width="26"/>
<path d="M545,580 C640,510 820,530 885,630 C920,690 925,760 905,815" stroke-width="26"/>
<path d="M530,600 C640,545 800,570 860,660 C890,710 890,790 880,830" stroke-width="18"/>
<ellipse cx="690" cy="762" rx="215" ry="128" transform="rotate(37 690 762)" fill="#fff"/>
<path d="M565,664.4 A178,102 37 1 1 702.9,877.2" stroke-width="20"/>
<path d="M585,830 L655,872" stroke="#fff" stroke-width="50"/>
</g>
<g transform="translate(1700.00,400.00) scale(0.12041)" fill="none" stroke="#161616" stroke-width="14.95" stroke-linecap="round" stroke-linejoin="round">
<ellipse cx="805" cy="258" rx="112" ry="96" transform="rotate(30 805 258)" fill="#fff"/>
<ellipse cx="792" cy="268" rx="92" ry="46" transform="rotate(32 792 268)"/>
<path d="M700,300 L765,345" stroke="#fff" stroke-width="36"/>
</g>
<g transform="translate(1710.00,480.00) scale(0.05159)" fill="none" stroke="#161616" stroke-width="34.89" stroke-linecap="round" stroke-linejoin="round">
<path d="M355,200 L740,235 L1055,545 L1000,840 L860,1010 L650,1040 C400,1020 200,900 175,640 L225,395 Z" fill="#fff"/>
<path d="M225,395 L600,430 L740,235 M600,430 L905,700 L1055,545 M1000,840 L905,700"/>
<path d="M215,410 L600,445 L895,715 L880,1000" stroke-width="50"/>
<ellipse cx="520" cy="775" rx="390" ry="250" transform="rotate(37 520 775)" fill="#fff"/>
<ellipse cx="520" cy="745" rx="300" ry="185" transform="rotate(37 520 745)" stroke-width="45"/>
<path d="M430,565 C560,590 720,690 760,820" stroke-width="26"/>
<path d="M360,605 C480,640 660,740 715,870" stroke-width="26"/>
<path d="M315,670 C410,700 590,800 640,900" stroke-width="24"/>
<path d="M300,745 C370,770 500,850 540,920" stroke-width="22"/>
</g>
<g transform="translate(1365.00,902.00) scale(0.12041)" fill="none" stroke="#161616" stroke-width="14.95" stroke-linecap="round" stroke-linejoin="round">
<ellipse cx="805" cy="258" rx="112" ry="96" transform="rotate(30 805 258)" fill="#fff"/>
<ellipse cx="792" cy="268" rx="92" ry="46" transform="rotate(32 792 268)"/>
<path d="M700,300 L765,345" stroke="#fff" stroke-width="36"/>
</g>
<g transform="translate(1375.00,982.00) scale(0.05159)" fill="none" stroke="#161616" stroke-width="34.89" stroke-linecap="round" stroke-linejoin="round">
<path d="M355,200 L740,235 L1055,545 L1000,840 L860,1010 L650,1040 C400,1020 200,900 175,640 L225,395 Z" fill="#fff"/>
<path d="M225,395 L600,430 L740,235 M600,430 L905,700 L1055,545 M1000,840 L905,700"/>
<path d="M215,410 L600,445 L895,715 L880,1000" stroke-width="50"/>
<ellipse cx="520" cy="775" rx="390" ry="250" transform="rotate(37 520 775)" fill="#fff"/>
<ellipse cx="520" cy="745" rx="300" ry="185" transform="rotate(37 520 745)" stroke-width="45"/>
<path d="M430,565 C560,590 720,690 760,820" stroke-width="26"/>
<path d="M360,605 C480,640 660,740 715,870" stroke-width="26"/>
<path d="M315,670 C410,700 590,800 640,900" stroke-width="24"/>
<path d="M300,745 C370,770 500,850 540,920" stroke-width="22"/>
</g>
<path d="M157.1,1027.5 L176.9,1009 C178,1008.2 186,1008.8 188.5,1009.6 C190.5,1010.5 190.5,1013 189.3,1014.3 L177,1025 C173,1028.5 164,1029 157.1,1027.5 Z" fill="none" stroke="#161616" stroke-width="1.9" stroke-linejoin="round" stroke-linecap="round"/><path d="M156.6,1028.5 L178.1,1065.5" fill="none" stroke="#161616" stroke-width="3.0" stroke-linejoin="round" stroke-linecap="round"/><path d="M182.1,1021 L198.4,1049.2 L178.1,1065.5" fill="none" stroke="#161616" stroke-width="1.9" stroke-linejoin="round" stroke-linecap="round"/><ellipse cx="182.1" cy="1046.7" rx="4.6" ry="8.2" transform="rotate(-25 182.1 1046.7)" fill="none" stroke="#161616" stroke-width="2.4"/><path d="M178.1,1065.5 L178.1,1126.8" fill="none" stroke="#161616" stroke-width="3.0" stroke-linejoin="round" stroke-linecap="round"/><path d="M198.4,1049.2 L198.4,1109.5 L178.1,1126.8" fill="none" stroke="#161616" stroke-width="1.9" stroke-linejoin="round" stroke-linecap="round"/><ellipse cx="190" cy="1071.9" rx="3.2" ry="7.2" transform="rotate(12 190 1071.9)" fill="none" stroke="#161616" stroke-width="2.4"/><path d="M176.2,1089.2 L156,1079.2 C154,1078.3 152.5,1078.6 151,1079.8 L137.6,1091 L130.7,1090.7 L111.4,1107.5 L111.9,1111 L120.8,1108.5 L133.6,1096.4 L137,1095 L176.2,1117.4" fill="none" stroke="#161616" stroke-width="1.9" stroke-linejoin="round" stroke-linecap="round"/><path d="M106.9,1115 L106.9,1119 L177.2,1127.3 M106.9,1115 L111.9,1112.6 L128.7,1114 L137.6,1106 L139.6,1105.6 L163.3,1122.9" fill="none" stroke="#161616" stroke-width="1.9" stroke-linejoin="round" stroke-linecap="round"/><path d="M135.6,1114.5 L139.6,1109 L155.4,1117.9 Z" fill="none" stroke="#161616" stroke-width="2.4" stroke-linejoin="round" stroke-linecap="round"/><ellipse cx="159.3" cy="1093.7" rx="11.5" ry="6.8" transform="rotate(28 159.3 1093.7)" fill="none" stroke="#161616" stroke-width="2.2"/><ellipse cx="161.3" cy="1092.8" rx="7" ry="4.2" transform="rotate(28 161.3 1092.8)" fill="none" stroke="#161616" stroke-width="1.8"/><ellipse cx="162.2" cy="1090.6" rx="2.4" ry="1.6" transform="rotate(20 162.2 1090.6)" fill="none" stroke="#161616" stroke-width="1.6"/><path d="M166.3,1119.6 L171.5,1119.6 L171.5,1123.5 L166.3,1123.5 Z" fill="none" stroke="#161616" stroke-width="1.6" stroke-linejoin="round" stroke-linecap="round"/>
<g transform="translate(380.00,940.00) scale(0.12038)" fill="none" stroke="#161616" stroke-width="14.95" stroke-linecap="round" stroke-linejoin="round">
<path d="M215,162 L570,185 C590,190 595,210 580,215 C760,250 900,230 980,195 L1020,320 L945,425 L550,340 L215,305 C150,300 150,165 215,162 Z" fill="#fff"/>
<path d="M540,285 C700,320 820,320 898,300 L980,195 M898,300 L945,425 M590,205 L520,290 L550,340"/>
<path d="M249,165 C219,192 217,273 243,306 M286,168 C256,195 254,278 280,311 M323,170 C293,197 291,282 317,315 M360,173 C330,200 328,286 354,319 M397,175 C367,202 365,290 391,323 M434,178 C404,205 402,294 428,327 M471,180 C441,207 439,299 465,332 M508,183 C478,210 476,303 502,336 M545,185 C515,212 513,307 539,340" stroke-width="17"/>
</g>
<line x1="607.8" y1="148.7" x2="607.0" y2="149.9" stroke="#161616" stroke-width="2.0" stroke-linecap="round"/>
<line x1="602.0" y1="157.8" x2="578.8" y2="192.6" stroke="#161616" stroke-width="2.0" stroke-linecap="round"/>
<line x1="596.6" y1="218.2" x2="638.4" y2="222.8" stroke="#161616" stroke-width="2.0" stroke-linecap="round"/>
<line x1="646.3" y1="223.6" x2="647.7" y2="223.8" stroke="#161616" stroke-width="2.0" stroke-linecap="round"/>
<line x1="656.0" y1="224.4" x2="664.0" y2="225.1" stroke="#161616" stroke-width="2.0" stroke-linecap="round"/>
<line x1="1016.8" y1="272.1" x2="1056.8" y2="276.5" stroke="#161616" stroke-width="2.0" stroke-linecap="round"/>
<line x1="1065.6" y1="277.2" x2="1067.0" y2="277.4" stroke="#161616" stroke-width="2.0" stroke-linecap="round"/>
<line x1="1284.0" y1="298.8" x2="1326.0" y2="303.6" stroke="#161616" stroke-width="2.0" stroke-linecap="round"/>
<line x1="1334.3" y1="304.4" x2="1335.7" y2="304.6" stroke="#161616" stroke-width="2.0" stroke-linecap="round"/>
<line x1="1342.0" y1="305.2" x2="1346.0" y2="305.6" stroke="#161616" stroke-width="2.0" stroke-linecap="round"/>
<line x1="1131.1" y1="215.8" x2="1130.3" y2="217.0" stroke="#161616" stroke-width="2.0" stroke-linecap="round"/>
<line x1="1126.4" y1="223.0" x2="1103.3" y2="257.5" stroke="#161616" stroke-width="2.0" stroke-linecap="round"/>
<line x1="1302.7" y1="227.1" x2="1301.9" y2="228.3" stroke="#161616" stroke-width="2.0" stroke-linecap="round"/>
<line x1="1297.6" y1="234.4" x2="1273.7" y2="270.4" stroke="#161616" stroke-width="2.0" stroke-linecap="round"/>
<line x1="1832.0" y1="284.6" x2="1831.2" y2="285.8" stroke="#161616" stroke-width="2.0" stroke-linecap="round"/>
<line x1="1826.2" y1="293.7" x2="1803.0" y2="329.3" stroke="#161616" stroke-width="2.0" stroke-linecap="round"/>
<line x1="1724.0" y1="341.0" x2="1766.6" y2="344.8" stroke="#161616" stroke-width="2.0" stroke-linecap="round"/>
<line x1="1774.4" y1="345.3" x2="1775.8" y2="345.5" stroke="#161616" stroke-width="2.0" stroke-linecap="round"/>
<line x1="1827.6" y1="386.2" x2="1804.8" y2="421.0" stroke="#161616" stroke-width="2.0" stroke-linecap="round"/>
<line x1="1792.7" y1="439.1" x2="1787.9" y2="444.6" stroke="#161616" stroke-width="2.0" stroke-linecap="round"/>
<line x1="1783.5" y1="451.3" x2="1782.5" y2="452.3" stroke="#161616" stroke-width="2.0" stroke-linecap="round"/>
<line x1="1778.3" y1="459.0" x2="1753.6" y2="493.9" stroke="#161616" stroke-width="2.0" stroke-linecap="round"/>
<line x1="235.5" y1="728.6" x2="276.4" y2="731.8" stroke="#161616" stroke-width="2.0" stroke-linecap="round"/>
<line x1="282.1" y1="732.9" x2="283.5" y2="733.1" stroke="#161616" stroke-width="2.0" stroke-linecap="round"/>
<line x1="291.4" y1="735.0" x2="304.3" y2="736.2" stroke="#161616" stroke-width="2.0" stroke-linecap="round"/>
<line x1="211.2" y1="749.4" x2="210.4" y2="750.6" stroke="#161616" stroke-width="2.0" stroke-linecap="round"/>
<line x1="206.5" y1="758.7" x2="182.9" y2="795.2" stroke="#161616" stroke-width="2.0" stroke-linecap="round"/>
<line x1="665.0" y1="773.6" x2="707.1" y2="777.0" stroke="#161616" stroke-width="2.0" stroke-linecap="round"/>
<line x1="716.8" y1="778.1" x2="718.2" y2="778.3" stroke="#161616" stroke-width="2.0" stroke-linecap="round"/>
<line x1="932.6" y1="802.0" x2="974.8" y2="805.9" stroke="#161616" stroke-width="2.0" stroke-linecap="round"/>
<line x1="983.5" y1="806.4" x2="984.9" y2="806.6" stroke="#161616" stroke-width="2.0" stroke-linecap="round"/>
<line x1="739.4" y1="807.4" x2="738.6" y2="808.6" stroke="#161616" stroke-width="2.0" stroke-linecap="round"/>
<line x1="734.7" y1="814.9" x2="712.1" y2="850.6" stroke="#161616" stroke-width="2.0" stroke-linecap="round"/>
<line x1="911.4" y1="818.6" x2="910.6" y2="819.8" stroke="#161616" stroke-width="2.0" stroke-linecap="round"/>
<line x1="905.9" y1="827.8" x2="882.8" y2="862.8" stroke="#161616" stroke-width="2.0" stroke-linecap="round"/>
<line x1="1360.6" y1="840.7" x2="1399.1" y2="844.0" stroke="#161616" stroke-width="2.0" stroke-linecap="round"/>
<line x1="1405.3" y1="844.4" x2="1406.7" y2="844.6" stroke="#161616" stroke-width="2.0" stroke-linecap="round"/>
<line x1="1419.8" y1="845.9" x2="1448.7" y2="849.0" stroke="#161616" stroke-width="2.0" stroke-linecap="round"/>
<line x1="1492.6" y1="888.2" x2="1469.8" y2="923.0" stroke="#161616" stroke-width="2.0" stroke-linecap="round"/>
<line x1="1457.7" y1="941.1" x2="1452.9" y2="946.6" stroke="#161616" stroke-width="2.0" stroke-linecap="round"/>
<line x1="1448.5" y1="953.3" x2="1447.5" y2="954.3" stroke="#161616" stroke-width="2.0" stroke-linecap="round"/>
<line x1="1443.3" y1="961.0" x2="1418.6" y2="995.9" stroke="#161616" stroke-width="2.0" stroke-linecap="round"/>
<line x1="1380.0" y1="854.7" x2="1379.2" y2="855.9" stroke="#161616" stroke-width="2.0" stroke-linecap="round"/>
<line x1="1374.7" y1="863.6" x2="1350.9" y2="899.3" stroke="#161616" stroke-width="2.0" stroke-linecap="round"/>
<line x1="1347.0" y1="906.6" x2="1346.2" y2="907.8" stroke="#161616" stroke-width="2.0" stroke-linecap="round"/>
<line x1="1342.0" y1="915.1" x2="1318.3" y2="950.7" stroke="#161616" stroke-width="2.0" stroke-linecap="round"/>
<line x1="1314.1" y1="958.0" x2="1313.3" y2="959.2" stroke="#161616" stroke-width="2.0" stroke-linecap="round"/>
<line x1="1309.4" y1="965.6" x2="1285.6" y2="1001.2" stroke="#161616" stroke-width="2.0" stroke-linecap="round"/>
<line x1="1282.1" y1="1008.5" x2="1281.3" y2="1009.7" stroke="#161616" stroke-width="2.0" stroke-linecap="round"/>
<line x1="1276.7" y1="1017.0" x2="1254.0" y2="1052.6" stroke="#161616" stroke-width="2.0" stroke-linecap="round"/></svg></body></html>
